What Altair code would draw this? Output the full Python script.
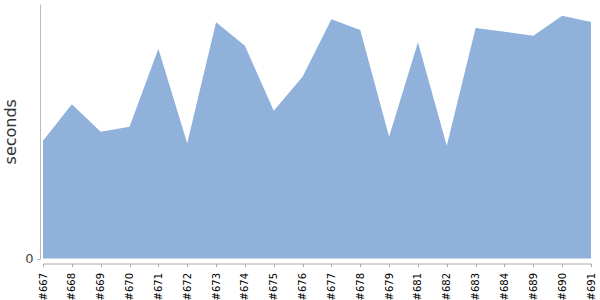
import altair as alt
import pandas as pd

builds = ["#667", "#668", "#669", "#670", "#671", "#672", "#673", "#674", "#675", "#676",
          "#677", "#678", "#679", "#681", "#682", "#683", "#684", "#689", "#690", "#691"]
seconds = [117.8, 154.2, 126.8, 131.8, 209.8, 115.2, 236.2, 212.8, 147.8, 181.8,
           239.2, 228.5, 121.8, 216.2, 112.8, 230.5, 226.7, 222.8, 242.8, 236.5]
y_ticks = [0]

df = pd.DataFrame({"build": builds, "seconds": seconds})

chart = alt.Chart(df).mark_area(color="#8fb1da", opacity=1, interpolate="linear").encode(
    x=alt.X("build:N", sort=None,
            scale=alt.Scale(type="point", padding=0),
            axis=alt.Axis(title=None, labelAngle=270, labelAlign="right", labelBaseline="middle",
                          labelFont="DejaVu Sans", labelFontSize=10, labelColor="#000",
                          labelPadding=6, tickSize=3, tickColor="#aaa", domainColor="#aaa",
                          offset=5, grid=False, labelOverlap=False)),
    y=alt.Y("seconds:Q",
            scale=alt.Scale(domain=[0, 254.5], nice=False, zero=True),
            axis=alt.Axis(title="seconds", values=y_ticks, grid=False, offset=3,
                          tickSize=3, tickColor="#aaa", domainColor="#bbb",
                          labelFont="DejaVu Sans", labelFontSize=13, labelColor="#444",
                          labelPadding=4, titleFont="DejaVu Sans", titleFontSize=16,
                          titleFontWeight="normal", titleColor="#333", titlePadding=6)),
).properties(
    width=548, height=254.5,
    autosize=alt.AutoSizeParams(type="none"),
    padding={"left": 43, "top": 4, "right": 9, "bottom": 41},
).configure_view(stroke=None)

chart.save("out.html", embed_options={"renderer": "svg", "actions": False})
